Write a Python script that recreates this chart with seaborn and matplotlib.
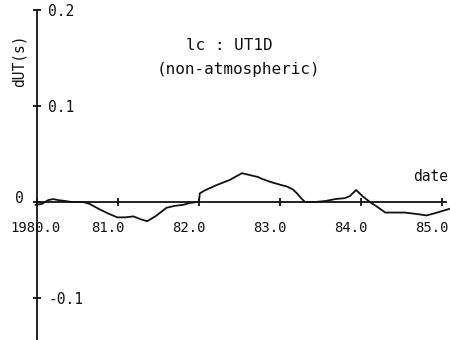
import matplotlib
matplotlib.use("Agg")
import matplotlib.pyplot as plt
import seaborn as sns
import pandas as pd

# Data (year, dUT in seconds)
years = [1979.98, 1980.06, 1980.14, 1980.20, 1980.26, 1980.35, 1980.43, 1980.57, 1980.65,
         1980.78, 1980.88, 1980.99, 1981.09, 1981.19, 1981.28, 1981.36, 1981.46, 1981.60,
         1981.70, 1981.80, 1981.89, 1981.98, 1982.00, 1982.01, 1982.07, 1982.20, 1982.38,
         1982.53, 1982.63, 1982.73, 1982.78, 1982.88, 1983.00, 1983.09, 1983.16, 1983.21,
         1983.26, 1983.31, 1983.43, 1983.56, 1983.68, 1983.80, 1983.86, 1983.94, 1984.02,
         1984.11, 1984.20, 1984.30, 1984.42, 1984.54, 1984.64, 1984.73, 1984.81, 1984.90,
         1984.98, 1985.10]
dut = [-0.003, -0.002, 0.002, 0.003, 0.002, 0.001, 0.000, 0.000, -0.002,
       -0.008, -0.012, -0.016, -0.016, -0.015, -0.018, -0.020, -0.015, -0.006,
       -0.004, -0.003, -0.001, 0.000, 0.001, 0.009, 0.012, 0.017, 0.023,
       0.030, 0.028, 0.026, 0.024, 0.021, 0.018, 0.016, 0.013, 0.009,
       0.004, 0.000, 0.000, 0.001, 0.003, 0.004, 0.006, 0.0125, 0.006,
       0.000, -0.005, -0.011, -0.011, -0.011, -0.012, -0.013, -0.014, -0.012,
       -0.010, -0.007]
xticks = [1980.0, 1981.0, 1982.0, 1983.0, 1984.0, 1985.0]
xtick_labels = ["1980.0", "81.0", "82.0", "83.0", "84.0", "85.0"]
yticks = [0.2, 0.1, 0.0, -0.1]
ytick_labels = ["0.2", "0.1", "0", "-0.1"]

df = pd.DataFrame({"year": years, "dut": dut})

sns.set_style("white")
plt.rcParams["font.family"] = ["DejaVu Sans Mono", "DejaVu Sans"]

fig = plt.figure(figsize=(4.5, 3.4), dpi=100)
ax = fig.add_axes([0, 0, 1, 1])
sns.lineplot(data=df, x="year", y="dut", ax=ax, color="#111111", linewidth=1.3)

ax.set_xlim(1979.543, 1985.099)
ax.set_ylim(-0.14375, 0.2104)

for s in ["top", "right"]:
    ax.spines[s].set_visible(False)
ax.spines["left"].set_position(("data", 1980.0))
ax.spines["left"].set_bounds(-0.145, 0.2)
ax.spines["bottom"].set_position(("data", 0.0))
ax.spines["bottom"].set_bounds(1980.0, 1985.05)
for s in ["left", "bottom"]:
    ax.spines[s].set_color("#111111")
    ax.spines[s].set_linewidth(1.3)

ax.set_xticks(xticks)
ax.set_yticks(yticks)
ax.set_xticklabels([])
ax.set_yticklabels([])
ax.tick_params(axis="both", direction="inout", length=6, width=1.3, color="#111111",
               bottom=True, left=True)
ax.set_xlabel("")
ax.set_ylabel("")

# tick labels (printed slightly left of their tick marks, as in the original plot)
for t, lab in zip(xticks, xtick_labels):
    off = -0.02 if t == 1980.0 else -0.13
    ax.text(t + off, -0.027, lab, ha="center", va="center",
            fontsize=10, color="#111111")
for v, lab in zip(yticks, ytick_labels):
    if v == 0.0:
        ax.text(1979.78, 0.004, lab, ha="center", va="center", fontsize=10.5, color="#111111")
    else:
        ax.text(1980.14, v - 0.002, lab, ha="left", va="center",
                fontsize=10.5, color="#111111")

ax.text(1984.86, 0.027, "date", ha="center", va="center", fontsize=10.5, color="#111111")
ax.text(1979.78, 0.147, "dUT(s)", ha="center", va="center", rotation=90,
        fontsize=10.5, color="#111111")
ax.text(1982.37, 0.1635, "lc : UT1D", ha="center", va="center", fontsize=11.5, color="#111111")
ax.text(1982.49, 0.1375, "(non-atmospheric)", ha="center", va="center", fontsize=11.5,
        color="#111111")

fig.savefig("out.png", dpi=100)
